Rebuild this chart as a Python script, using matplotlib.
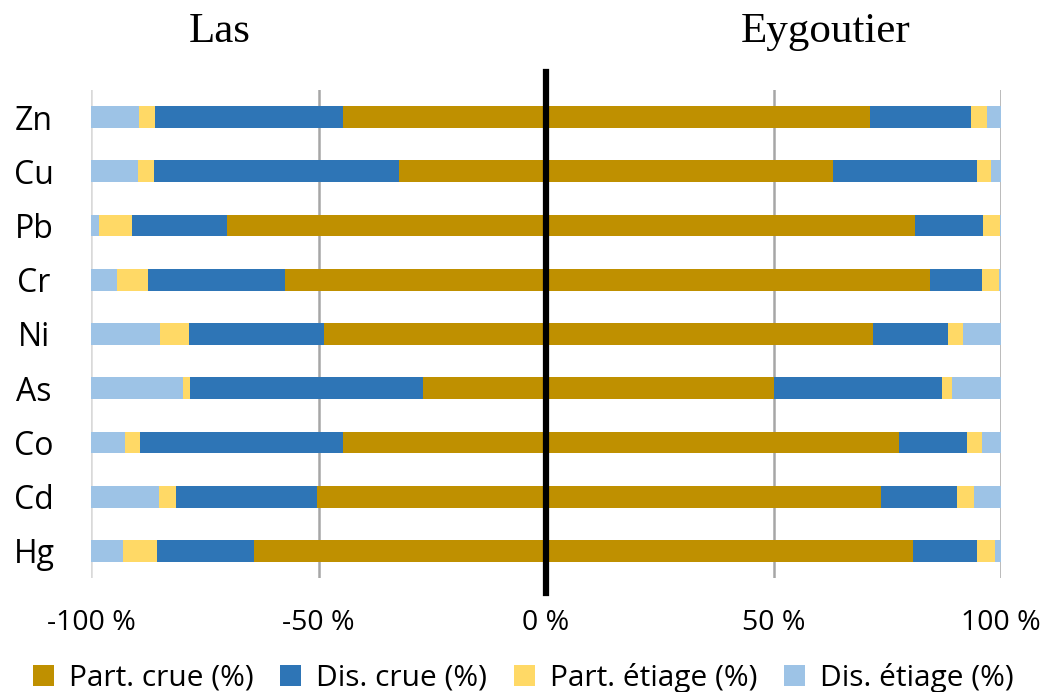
import matplotlib
matplotlib.use("Agg")
import matplotlib.pyplot as plt
import numpy as np

plt.rcParams['font.family'] = ['Liberation Sans Narrow', 'Open Sans', 'DejaVu Sans']

metals = ["Zn", "Cu", "Pb", "Cr", "Ni", "As", "Co", "Cd", "Hg"]
series_names = ["Part. crue (%)", "Dis. crue (%)", "Part. étiage (%)", "Dis. étiage (%)"]
colors = ["#BF9000", "#2E75B6", "#FFD966", "#9DC3E6"]

# Las (left side, plotted as negative)
las_part_crue = [44.6, 32.4, 70.1, 57.3, 48.7, 27.1, 44.7, 50.3, 64.2]
las_dis_crue = [41.4, 53.8, 20.9, 30.2, 29.7, 51.1, 44.5, 31.1, 21.2]
las_part_etiage = [3.5, 3.5, 7.2, 6.8, 6.4, 1.5, 3.3, 3.7, 7.5]
las_dis_etiage = [10.5, 10.3, 1.8, 5.7, 15.2, 20.3, 7.5, 14.9, 7.1]

# Eygoutier (right side)
eyg_part_crue = [71.3, 63.0, 81.0, 84.4, 71.9, 50.0, 77.6, 73.6, 80.6]
eyg_dis_crue = [22.1, 31.7, 15.0, 11.4, 16.4, 37.0, 14.9, 16.7, 14.2]
eyg_part_etiage = [3.5, 3.0, 3.7, 3.8, 3.4, 2.3, 3.4, 3.7, 3.9]
eyg_dis_etiage = [3.1, 2.3, 0.3, 0.4, 8.3, 10.7, 4.1, 6.0, 1.3]

xticks = [-100, -50, 0, 50, 100]
xticklabels = ["-100 %", "-50 %", "0 %", "50 %", "100 %"]

fig = plt.figure(figsize=(10.47, 6.92), dpi=100)
ax = fig.add_axes([91/1047, 1-578/692, 910/1047, 488/692])

y = np.arange(len(metals))
h = 0.4
las = [las_part_crue, las_dis_crue, las_part_etiage, las_dis_etiage]
eyg = [eyg_part_crue, eyg_dis_crue, eyg_part_etiage, eyg_dis_etiage]

cum_l = np.zeros(len(metals))
cum_r = np.zeros(len(metals))
for i in range(4):
    lv = np.array(las[i])
    rv = np.array(eyg[i])
    ax.barh(y, -lv, left=-cum_l, height=h, color=colors[i], label=series_names[i], zorder=3)
    ax.barh(y, rv, left=cum_r, height=h, color=colors[i], zorder=3)
    cum_l += lv
    cum_r += rv

ax.set_xlim(-100, 100)
ax.set_ylim(len(metals) - 0.5, -0.5)
ax.set_yticks(y)
ax.set_yticklabels(metals, fontsize=23)
ax.set_xticks(xticks)
ax.set_xticklabels(xticklabels, fontsize=20.5)
ax.tick_params(axis='both', length=0)
ax.tick_params(axis='x', pad=22)
ax.tick_params(axis='y', pad=41)
for lab in ax.get_yticklabels():
    lab.set_horizontalalignment('center')

for s in ax.spines.values():
    s.set_visible(False)

for xv in [-100, -50, 50, 100]:
    ax.axvline(xv, color="#D9D9D9" if xv == -100 else "#A6A6A6", lw=1.8, zorder=1)

ax.plot([0, 0], [-0.03, 1.037], transform=ax.get_xaxis_transform(), color="black",
        lw=4.5, zorder=5, clip_on=False)

fig.text(220/1047, 1-32/692, "Las", family="Liberation Serif", fontsize=31, ha="center", va="center")
fig.text(826/1047, 1-32/692, "Eygoutier", family="Liberation Serif", fontsize=31, ha="center", va="center")

leg = fig.legend(loc="center", bbox_to_anchor=(0.5, 1-678/692), ncol=4, frameon=False,
                 fontsize=21.5, handlelength=0.7, handleheight=0.7, columnspacing=0.9, handletextpad=0.5)

fig.savefig("out.png", dpi=100)
